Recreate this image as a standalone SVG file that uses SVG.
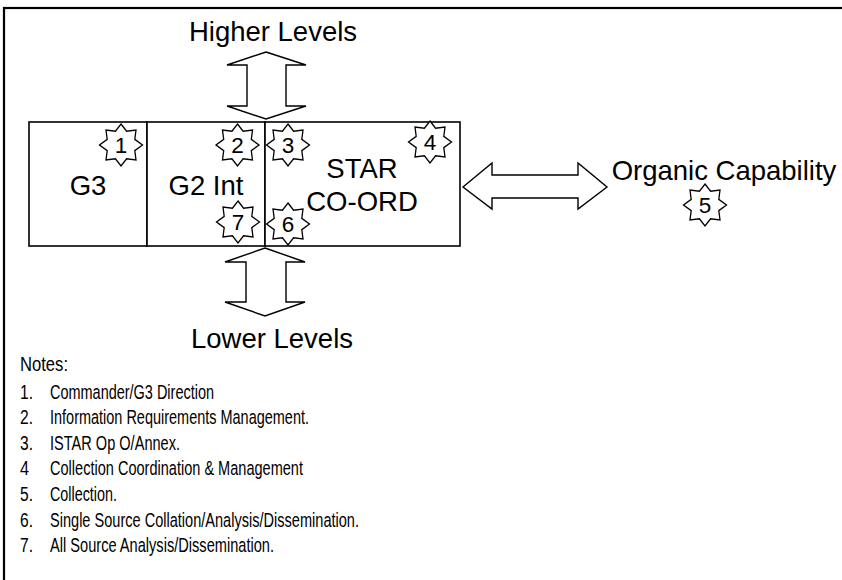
<svg xmlns="http://www.w3.org/2000/svg" xmlns:xlink="http://www.w3.org/1999/xlink" width="842" height="580" viewBox="0 0 842 580">
  <style>
    .frame { fill: none; stroke: #000; stroke-width: 2.2; }
    .cell { fill: #fff; stroke: #000; stroke-width: 1.6; }
    .arrow { fill: #fff; stroke: #000; stroke-width: 1.4; stroke-linejoin: miter; }
    .star { fill: #fff; stroke: #000; stroke-width: 1.3; stroke-linejoin: miter; }
    .big { font-family: "Liberation Sans", Arial, sans-serif; font-size: 27.5px; fill: #000; text-anchor: middle; }
    .num { font-family: "Liberation Sans", Arial, sans-serif; font-size: 22.5px; fill: #000; text-anchor: middle; }
    .note { font-family: "Liberation Sans", Arial, sans-serif; font-size: 20.5px; fill: #000; }
  </style>
  <defs>
    <!-- eight-point badge used for the numbered callouts -->
    <polygon id="star8" class="star" points="0,-21 5.6,-13.8 15,-15 13.8,-5.6 21.5,0 13.8,5.6 15,15 5.6,13.8 0,21 -5.6,13.8 -15,15 -13.8,5.6 -21.5,0 -13.8,-5.6 -15,-15 -5.6,-13.8"/>
  </defs>

  <rect width="842" height="580" fill="#fff"/>
  <!-- outer border (runs off the right and bottom edges) -->
  <rect class="frame" x="4" y="8" width="860" height="600"/>

  <!-- connectors: block double arrows -->
  <g id="connectors">
    <polygon id="arrow-up" class="arrow" points="266,52 306,65 286,65 286,106 306,106 266,119 227,106 247,106 247,65 227,65"/>
    <polygon id="arrow-down" class="arrow" points="265,248 305,262 286,262 286,302 305,302 265,316 225,302 246,302 246,262 225,262"/>
    <polygon id="arrow-side" class="arrow" points="463,187 492,163 492,175 578,175 578,163 607,187 578,209 578,198 492,198 492,209"/>
  </g>

  <g id="higher-levels">
    <text class="big" x="273" y="41">Higher Levels</text>
  </g>
  <g id="lower-levels">
    <text class="big" x="272" y="348">Lower Levels</text>
  </g>

  <g id="g3">
    <rect class="cell" x="29" y="122" width="118" height="124"/>
    <text class="big" x="88" y="195">G3</text>
  </g>
  <g id="g2-int">
    <rect class="cell" x="147" y="122" width="118" height="124"/>
    <text class="big" x="206" y="195">G2 Int</text>
  </g>
  <g id="star-coord">
    <rect class="cell" x="265" y="122" width="195" height="124"/>
    <text class="big" x="362" y="178">STAR</text>
    <text class="big" x="362" y="211">CO-ORD</text>
  </g>
  <g id="organic-capability">
    <text class="big" x="724" y="180">Organic Capability</text>
  </g>

  <!-- numbered callouts -->
  <g id="callout-1"><use xlink:href="#star8" x="121" y="145"/><text class="num" x="121" y="153">1</text></g>
  <g id="callout-2"><use xlink:href="#star8" x="237.5" y="145"/><text class="num" x="237.5" y="153">2</text></g>
  <g id="callout-3"><use xlink:href="#star8" x="288" y="145"/><text class="num" x="288" y="153">3</text></g>
  <g id="callout-4"><use xlink:href="#star8" x="430" y="142"/><text class="num" x="430" y="150">4</text></g>
  <g id="callout-5"><use xlink:href="#star8" x="705" y="205"/><text class="num" x="705" y="213">5</text></g>
  <g id="callout-6"><use xlink:href="#star8" x="288" y="224"/><text class="num" x="288" y="232">6</text></g>
  <g id="callout-7"><use xlink:href="#star8" x="238" y="222"/><text class="num" x="238" y="230">7</text></g>

  <!-- notes list (condensed face) -->
  <g id="notes">
    <text class="note" x="20" y="371" textLength="48" lengthAdjust="spacingAndGlyphs">Notes:</text>
    <text class="note" x="20" y="398.5" textLength="13" lengthAdjust="spacingAndGlyphs">1.</text>
    <text class="note" x="50" y="398.5" textLength="164" lengthAdjust="spacingAndGlyphs">Commander/G3 Direction</text>
    <text class="note" x="20" y="424" textLength="13" lengthAdjust="spacingAndGlyphs">2.</text>
    <text class="note" x="50" y="424" textLength="259" lengthAdjust="spacingAndGlyphs">Information Requirements Management.</text>
    <text class="note" x="20" y="449.5" textLength="13" lengthAdjust="spacingAndGlyphs">3.</text>
    <text class="note" x="50" y="449.5" textLength="130" lengthAdjust="spacingAndGlyphs">ISTAR Op O/Annex.</text>
    <text class="note" x="20" y="475" textLength="9" lengthAdjust="spacingAndGlyphs">4</text>
    <text class="note" x="50" y="475" textLength="253" lengthAdjust="spacingAndGlyphs">Collection Coordination &amp; Management</text>
    <text class="note" x="20" y="500.5" textLength="13" lengthAdjust="spacingAndGlyphs">5.</text>
    <text class="note" x="50" y="500.5" textLength="67" lengthAdjust="spacingAndGlyphs">Collection.</text>
    <text class="note" x="20" y="526.5" textLength="13" lengthAdjust="spacingAndGlyphs">6.</text>
    <text class="note" x="50" y="526.5" textLength="309" lengthAdjust="spacingAndGlyphs">Single Source Collation/Analysis/Dissemination.</text>
    <text class="note" x="20" y="552" textLength="13" lengthAdjust="spacingAndGlyphs">7.</text>
    <text class="note" x="50" y="552" textLength="224" lengthAdjust="spacingAndGlyphs">All Source Analysis/Dissemination.</text>
  </g>
</svg>
